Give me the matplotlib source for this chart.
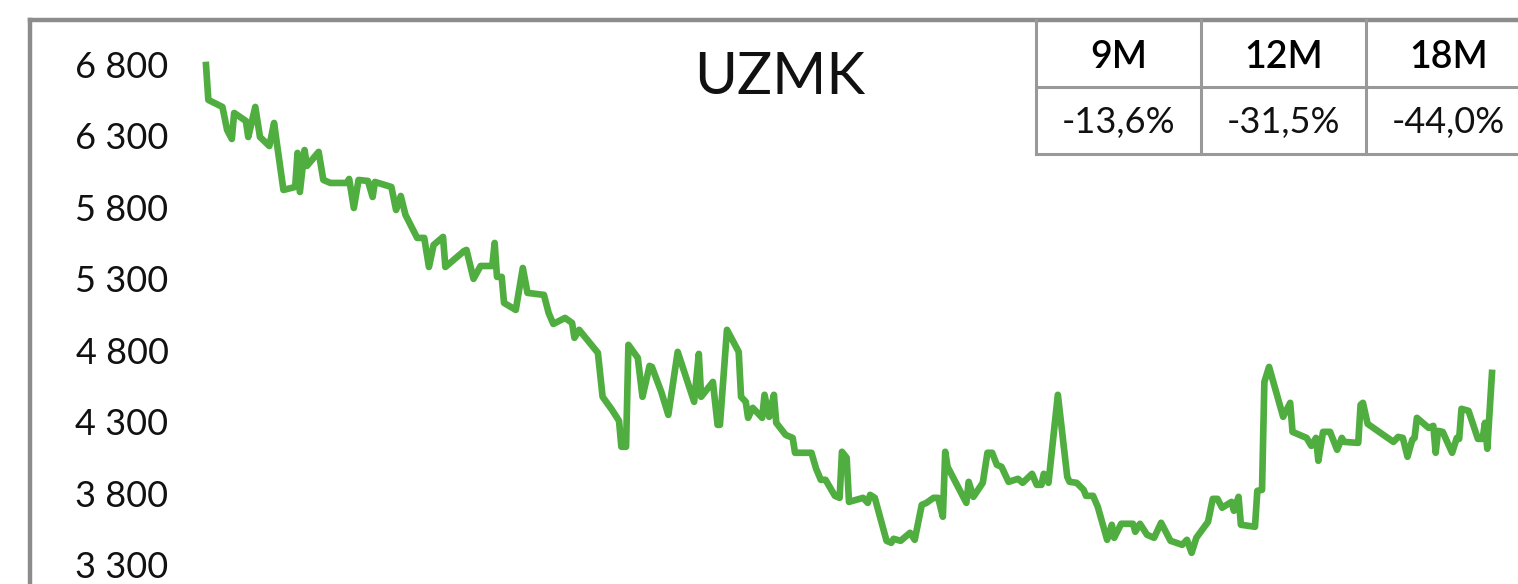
import matplotlib
matplotlib.use("Agg")
import matplotlib.pyplot as plt
from matplotlib.ticker import FuncFormatter

plt.rcParams['font.family'] = ['Lato', 'DejaVu Sans']

# --- data ---
ticker = "UZMK"
periods = ["9M", "12M", "18M"]
changes = ["-13,6%", "-31,5%", "-44,0%"]
yticks = [3300, 3800, 4300, 4800, 5300, 5800, 6300, 6800]

# calendar days since start of the window
days = [0, 1, 7, 9, 11, 12, 17, 18, 21, 23, 27, 29, 30, 33, 38, 39, 40, 42, 43, 48,
        50, 53, 60, 61, 63, 65, 69, 71, 72, 79, 81, 83, 85, 90, 93, 95, 97, 101, 102, 110,
        111, 114, 117, 122, 123, 124, 126, 127, 132, 135, 137, 144, 146, 148, 153, 156, 157, 159, 166, 167,
        169, 173, 176, 177, 179, 180, 184, 186, 189, 190, 194, 197, 201, 208, 210, 211, 216, 218, 219, 222,
        227, 228, 230, 231, 233, 237, 238, 240, 242, 243, 247, 250, 251, 258, 260, 262, 264, 268, 270, 271,
        273, 274, 280, 282, 283, 285, 290, 292, 293, 296, 300, 302, 305, 307, 310, 312, 314, 315, 316, 324,
        325, 327, 331, 333, 335, 337, 339, 342, 346, 348, 352, 354, 356, 357, 359, 363, 367, 368, 371, 374,
        375, 378, 380, 384, 386, 387, 390, 395, 396, 398, 401, 404, 407, 411, 416, 418, 420, 422, 427, 429,
        431, 433, 437, 438, 440, 441, 447, 448, 450, 451, 453, 459, 462, 463, 469, 471, 473, 474, 476, 479,
        482, 484, 485, 491, 492, 493, 495, 506, 508, 510, 512, 514, 515, 516, 521, 523, 524, 525, 527, 531,
        533, 534, 535, 538, 542, 544, 545, 546, 548]

price = [6793, 6549, 6500, 6339, 6276, 6458, 6402, 6290, 6500, 6290, 6227, 6388, 6269, 5920, 5941, 6179, 5906, 6199, 6088, 6186,
         5990, 5969, 5969, 5997, 5794, 5990, 5983, 5871, 5976, 5941, 5780, 5878, 5746, 5585, 5585, 5382, 5536, 5592, 5382, 5494,
         5501, 5299, 5389, 5389, 5550, 5313, 5313, 5131, 5082, 5375, 5201, 5187, 5061, 4984, 5026, 4991, 4887, 4943, 4803, 4782,
         4475, 4384, 4307, 4126, 4126, 4838, 4747, 4475, 4691, 4684, 4510, 4349, 4789, 4440, 4775, 4475, 4579, 4279, 4279, 4943,
         4789, 4475, 4440, 4328, 4398, 4328, 4489, 4335, 4489, 4293, 4209, 4188, 4084, 4084, 3972, 3895, 3895, 3783, 3769, 4091,
         4049, 3741, 3769, 3734, 3790, 3769, 3469, 3455, 3483, 3469, 3525, 3476, 3720, 3734, 3769, 3769, 3637, 4091, 3986, 3734,
         3881, 3776, 3874, 4084, 4084, 4000, 3986, 3881, 3902, 3874, 3937, 3860, 3860, 3937, 3874, 4489, 3916, 3881, 3874, 3825,
         3783, 3783, 3707, 3476, 3581, 3490, 3588, 3588, 3532, 3588, 3511, 3490, 3595, 3469, 3441, 3476, 3385, 3490, 3602, 3762,
         3762, 3700, 3741, 3679, 3776, 3581, 3567, 3818, 3825, 4579, 4684, 4335, 4433, 4230, 4188, 4132, 4188, 4028, 4230, 4230,
         4105, 4188, 4160, 4153, 4419, 4433, 4286, 4160, 4195, 4188, 4056, 4174, 4188, 4328, 4258, 4272, 4084, 4237, 4230, 4084,
         4188, 4181, 4391, 4377, 4181, 4181, 4293, 4112, 4642]

W, H = 1518, 584
fig = plt.figure(figsize=(W / 100, H / 100), dpi=100)

# overlay in pixel units for frame and the small table
ov = fig.add_axes([0, 0, 1, 1])
ov.set_xlim(0, W)
ov.set_ylim(H, 0)
ov.axis('off')

frame_col = '#8c8c8c'
ov.plot([30, 30], [20, H + 10], color=frame_col, lw=3.2, solid_capstyle='projecting')
ov.plot([30, W + 10], [20, 20], color=frame_col, lw=3.2, solid_capstyle='projecting')

tab_col = '#999999'
col_w = 165
x0 = 1036
for i in range(len(periods) + 1):
    ov.plot([x0 + i * col_w] * 2, [20, 154], color=tab_col, lw=2.2)
for yy in (87, 154):
    ov.plot([x0, W + 10], [yy, yy], color=tab_col, lw=2.2)
for i, (p, c) in enumerate(zip(periods, changes)):
    cx = x0 + (i + 0.5) * col_w
    ov.text(cx, 57, p, ha='center', va='center', fontsize=27, color='#000000',
            fontweight='semibold')
    ov.text(cx, 122, c, ha='center', va='center', fontsize=26, color='#111111')

# price axes
ax = fig.add_axes([206 / W, 19 / H, 1286 / W, 501 / H])
ax.set_xlim(0, 548)
ax.set_ylim(3300, 6800)
ax.patch.set_alpha(0)
ax.plot(days, price, color='#4fae3f', lw=4.8, clip_on=False)

for s in ax.spines.values():
    s.set_visible(False)
ax.set_xticks([])
ax.set_yticks(yticks)
ax.yaxis.set_major_formatter(FuncFormatter(lambda v, _: f"{int(v):,}".replace(",", " ")))
ax.tick_params(axis='y', length=0, pad=27, labelsize=26, labelcolor='#111111')

fig.text(780 / W, 1 - 78 / H, ticker, ha='center', va='center', fontsize=42, color='#111111')

fig.savefig('out.png', dpi=100)
